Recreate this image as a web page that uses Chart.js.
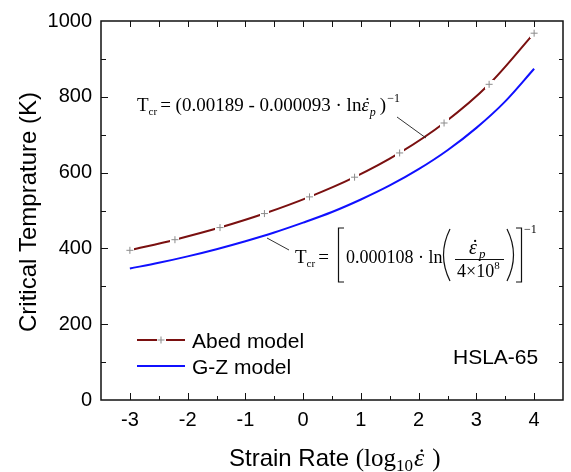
<!DOCTYPE html>
<html>
<head>
<meta charset="utf-8">
<script src="https://cdn.jsdelivr.net/npm/chart.js@4.4.0/dist/chart.umd.min.js"></script>
<style>
    html, body { margin: 0; padding: 0; background: #fff; }
    #wrap { width: 571px; height: 472px; position: relative; }
</style>
</head>
<body>
<div id="wrap"><canvas id="strainChart"></canvas></div>
<script>
// values
const abedX = [-3, -2.22, -1.44, -0.67, 0.11, 0.89, 1.67, 2.44, 3.22, 4];
const abedT = [395, 423, 455, 492, 536, 588, 652, 731, 833, 968];

const gzX = [-3, -2.5, -2, -1.5, -1, -0.5, 0, 0.5, 1, 1.5, 2, 2.5, 3, 3.5, 4];
const gzT = [347, 362, 379, 398, 419, 442, 468, 496, 529, 566, 609, 659, 718, 788, 874];

const seriesNames = ["Abed model", "G-Z model"];
const xTickLabels = ["-3", "-2", "-1", "0", "1", "2", "3", "4"];
const yTickLabels = ["0", "200", "400", "600", "800", "1000"];

const SANS = '"Liberation Sans", Arial, sans-serif';
const SERIF = '"Liberation Serif", "Times New Roman", serif';

// gray "+" with white behind it, so the line shows a gap at each marker
function MakeCrossMarker() {
    const c = document.createElement('canvas');
    c.width = 9;
    c.height = 9;
    const g = c.getContext('2d');
    g.fillStyle = '#fff';
    g.fillRect(0, 0, 9, 9);
    g.strokeStyle = '#8c8c8c';
    g.lineWidth = 1;
    g.beginPath();
    g.moveTo(1, 4.5); g.lineTo(8, 4.5);
    g.moveTo(4.5, 1); g.lineTo(4.5, 8);
    g.stroke();
    return c;
}
const crossMarker = MakeCrossMarker();

function ToPoints(xs, ys) {
    return xs.map((x, i) => ({ x: x, y: ys[i] }));
}

// draws a run of text pieces one after the other, returns end x
// p.dot puts a dot over the piece (for strain rate epsilon)
function DrawParts(ctx, x, y, parts) {
    parts.forEach((p) => {
        ctx.font = p.f;
        const dy = p.dy || 0;
        ctx.fillText(p.t, x, y + dy);
        const w = ctx.measureText(p.t).width;
        if (p.dot) {
            const dw = ctx.measureText('˙').width;
            ctx.fillText('˙', x + (w - dw) / 2 + 1, y + dy);
        }
        x += w + (p.gap || 0);
    });
    return x;
}

const decorPlugin = {
    id: 'decor',
    afterDraw(chart) {
        const ctx = chart.ctx;
        const a = chart.chartArea;
        const xs = chart.scales.x;
        const ys = chart.scales.y;
        ctx.save();

        // frame
        ctx.strokeStyle = '#111';
        ctx.lineWidth = 1.5;
        ctx.strokeRect(a.left, a.top, a.right - a.left, a.bottom - a.top);

        // inward ticks
        ctx.lineWidth = 1;
        ctx.beginPath();
        xs.ticks.forEach((t) => {
            if (t.value <= xs.min || t.value >= xs.max) return;
            const px = Math.round(xs.getPixelForValue(t.value)) + 0.5;
            const len = Number.isInteger(t.value) ? 7 : 4;
            ctx.moveTo(px, a.bottom); ctx.lineTo(px, a.bottom - len);
            ctx.moveTo(px, a.top); ctx.lineTo(px, a.top + 6);
        });
        ys.ticks.forEach((t) => {
            if (t.value <= ys.min || t.value >= ys.max) return;
            const py = Math.round(ys.getPixelForValue(t.value)) + 0.5;
            const len = t.value % 200 === 0 ? 7 : 5;
            ctx.moveTo(a.left, py); ctx.lineTo(a.left + len, py);
            ctx.moveTo(a.right, py); ctx.lineTo(a.right - 4, py);
        });
        ctx.stroke();

        ctx.fillStyle = '#000';
        ctx.textBaseline = 'alphabetic';
        ctx.textAlign = 'left';

        // y title
        ctx.save();
        ctx.translate(29, 212);
        ctx.rotate(-Math.PI / 2);
        ctx.textAlign = 'center';
        ctx.textBaseline = 'middle';
        ctx.font = '24px ' + SANS;
        ctx.fillText('Critical Temprature (K)', 0, 0);
        ctx.restore();

        // x title
        DrawParts(ctx, 229, 466, [
            { t: 'Strain Rate ', f: '24px ' + SANS },
            { t: '(log', f: '25px ' + SERIF },
            { t: '10', f: '17px ' + SERIF, dy: 5, gap: 1 },
            { t: 'ε', f: 'italic 26px ' + SERIF, gap: 8, dot: true },
            { t: ')', f: '25px ' + SERIF }
        ]);

        // equation for Abed model
        DrawParts(ctx, 137, 111, [
            { t: 'T', f: '19px ' + SERIF },
            { t: 'cr', f: '11px ' + SERIF, dy: 4, gap: 3 },
            { t: '= (0.00189 - 0.000093 · ln', f: '19px ' + SERIF },
            { t: 'ε', f: 'italic 19px ' + SERIF, gap: 1, dot: true },
            { t: 'p', f: 'italic 12px ' + SERIF, dy: 5, gap: 4 },
            { t: ')', f: '19px ' + SERIF, gap: 1 },
            { t: '−1', f: '12px ' + SERIF, dy: -9 }
        ]);

        // equation for G-Z model
        DrawParts(ctx, 295, 263, [
            { t: 'T', f: '19px ' + SERIF },
            { t: 'cr', f: '11px ' + SERIF, dy: 4, gap: 3 },
            { t: '=', f: '19px ' + SERIF }
        ]);
        DrawParts(ctx, 346, 263, [
            { t: '0.000108 · ln', f: '18px ' + SERIF }
        ]);
        ctx.lineWidth = 1.2;
        ctx.beginPath();
        // [ ]
        ctx.moveTo(344, 228); ctx.lineTo(338.5, 228); ctx.lineTo(338.5, 282); ctx.lineTo(344, 282);
        ctx.moveTo(516, 228); ctx.lineTo(521.5, 228); ctx.lineTo(521.5, 282); ctx.lineTo(516, 282);
        ctx.stroke();
        ctx.beginPath();
        // ( )
        ctx.moveTo(450, 229); ctx.quadraticCurveTo(437, 255, 450, 281);
        ctx.moveTo(507, 229); ctx.quadraticCurveTo(520, 255, 507, 281);
        ctx.stroke();
        // fraction
        ctx.beginPath();
        ctx.moveTo(455, 259.5); ctx.lineTo(504, 259.5);
        ctx.stroke();
        DrawParts(ctx, 469, 254, [
            { t: 'ε', f: 'italic 20px ' + SERIF, gap: 2, dot: true },
            { t: 'p', f: 'italic 13px ' + SERIF, dy: 4 }
        ]);
        DrawParts(ctx, 457, 277, [
            { t: '4×10', f: '18px ' + SERIF },
            { t: '8', f: '11px ' + SERIF, dy: -8 }
        ]);
        DrawParts(ctx, 524, 233, [
            { t: '−1', f: '12px ' + SERIF }
        ]);

        // leader lines
        ctx.strokeStyle = '#333';
        ctx.lineWidth = 1;
        ctx.beginPath();
        ctx.moveTo(397, 117); ctx.lineTo(426, 138);
        ctx.moveTo(267, 238); ctx.lineTo(289, 250);
        ctx.stroke();

        // legend
        chart.data.datasets.forEach((ds, i) => {
            const ly = 340 + i * 26;
            ctx.strokeStyle = ds.borderColor;
            ctx.lineWidth = 2;
            ctx.beginPath();
            ctx.moveTo(137, ly); ctx.lineTo(185, ly);
            ctx.stroke();
            if (ds.pointStyle instanceof HTMLCanvasElement) {
                ctx.drawImage(ds.pointStyle, 161 - 4.5, ly - 4.5);
            }
            ctx.fillStyle = '#000';
            ctx.font = '21px ' + SANS;
            ctx.fillText(ds.label, 192, ly + 7.5);
        });

        ctx.font = '21px ' + SANS;
        ctx.fillText('HSLA-65', 453, 364);

        ctx.restore();
    }
};

const strainChartConfig = {
    type: 'line',
    data: {
        datasets: [
            {
                label: seriesNames[0],
                data: ToPoints(abedX, abedT),
                borderColor: '#7a1010',
                borderWidth: 2,
                cubicInterpolationMode: 'monotone',
                pointStyle: crossMarker,
                pointRadius: 4,
                pointHoverRadius: 4
            },
            {
                label: seriesNames[1],
                data: ToPoints(gzX, gzT),
                borderColor: '#1010ff',
                borderWidth: 2,
                cubicInterpolationMode: 'monotone',
                pointRadius: 0
            }
        ]
    },
    options: {
        responsive: true,
        maintainAspectRatio: false,
        animation: false,
        layout: { padding: { left: 0, top: 21, right: 2, bottom: 0 } },
        plugins: {
            legend: { display: false },
            tooltip: { enabled: false }
        },
        scales: {
            x: {
                type: 'linear',
                min: -3.5,
                max: 4.5,
                afterFit: (scale) => { scale.height = 72; },
                grid: { drawOnChartArea: false, drawTicks: false },
                border: { display: false },
                ticks: {
                    stepSize: 0.5,
                    autoSkip: false,
                    maxRotation: 0,
                    padding: 8,
                    color: '#000',
                    font: { family: SANS, size: 20 },
                    callback: (v) => {
                        const idx = xTickLabels.indexOf(String(v));
                        return idx >= 0 ? xTickLabels[idx] : '';
                    }
                }
            },
            y: {
                min: 0,
                max: 1000,
                afterFit: (scale) => { scale.width = 101; },
                grid: { drawOnChartArea: false, drawTicks: false },
                border: { display: false },
                ticks: {
                    stepSize: 100,
                    autoSkip: false,
                    padding: 9,
                    color: '#000',
                    font: { family: SANS, size: 20 },
                    callback: (v) => {
                        const idx = yTickLabels.indexOf(String(v));
                        return idx >= 0 ? yTickLabels[idx] : '';
                    }
                }
            }
        }
    },
    plugins: [decorPlugin]
};

const ctx = document.getElementById('strainChart').getContext('2d');
const strainChartInstance = new Chart(ctx, strainChartConfig);
</script>
</body>
</html>
